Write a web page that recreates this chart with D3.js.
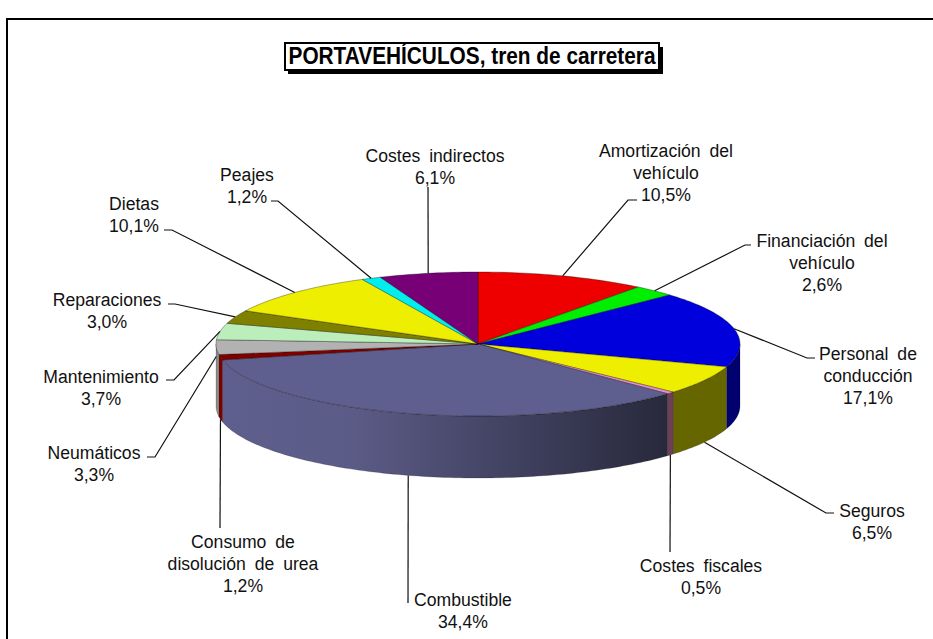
<!DOCTYPE html>
<html>
<head>
<meta charset="utf-8">
<script src="https://cdn.jsdelivr.net/npm/d3@7"></script>
<style>
html, body { margin: 0; background: #fff; }
svg { display: block; }
text { font-family: "Liberation Sans", Arial, sans-serif; }
</style>
</head>
<body>
<div id="chart"></div>
<script>
let title = "PORTAVEHÍCULOS, tren de carretera"

// chart data, clockwise from 12 o'clock
let categories = [
    ["Amortización del", "vehículo"],
    ["Financiación del", "vehículo"],
    ["Personal de", "conducción"],
    ["Seguros"],
    ["Costes fiscales"],
    ["Combustible"],
    ["Consumo de", "disolución de urea"],
    ["Neumáticos"],
    ["Mantenimiento"],
    ["Reparaciones"],
    ["Dietas"],
    ["Peajes"],
    ["Costes indirectos"]
]
let values = [10.5, 2.6, 17.1, 6.5, 0.5, 34.4, 1.2, 3.3, 3.7, 3.0, 10.1, 1.2, 6.1]
let topColors = ["#ee0000", "#00ee00", "#0000dd", "#eeee00", "#e890c8", "#5f5f8f",
    "#800000", "#b2b2b2", "#bbeebb", "#808000", "#eeee00", "#00eeee", "#770077"]
let wallColors = ["#770000", "#007700", "#00006e", "#666600", "#6f3f58", "url(#fuelWall)",
    "#7b0000", "#8c8c8c", "#5e775e", "#404000", "#777700", "#007777", "#3c003c"]

// label layout: centre x, first baseline y
let labelPos = [[666, 157], [822, 247], [868, 360], [872, 517], [701, 572], [463, 606],
    [243, 548], [94, 459], [101, 383], [107, 306], [134, 210], [247, 181], [435, 162]]
// where the leader leaves the label, elbow first then end at the label
let leaderEnds = [
    [[628, 200], [637, 200]],
    [[745, 245], [751, 245]],
    [[807, 358], [815, 358]],
    [[826, 513], [834, 513]],
    [[670, 552]],
    [[408, 603]],
    [[220, 528]],
    [[155, 457], [147, 457]],
    [[174, 380], [166, 380]],
    [[175, 304], [168, 304]],
    [[172, 230], [164, 230]],
    [[278, 201], [271, 201]],
    [[428, 187]]
]
// how far down the wall the leader touches (0 top rim, 1 bottom rim)
let leaderDrop = [0, 0, 0, 1, 1, 1, 1, 0.15, 0, 0, 0, 0, 0]

let width = 933
let height = 639
let cx = 478, cy = 344, rx = 262, ry = 72, depth = 62
let lineHeight = 22

let svg = d3.select("#chart").append("svg")
    .attr("width", width)
    .attr("height", height)

let fmt = d3.formatLocale({ decimal: ",", thousands: ".", grouping: [3], currency: ["", "€"] }).format(".1f")

let slices = d3.pie().sort(null).startAngle(0).endAngle(2 * Math.PI)(values)

function project(a, drop) {
    return [cx + rx * Math.sin(a), cy - ry * Math.cos(a) + (drop || 0) * depth]
}
function arcPoints(a0, a1, drop) {
    let n = Math.max(2, Math.ceil(Math.abs(a1 - a0) / 0.02))
    return d3.range(n + 1).map(i => project(a0 + (a1 - a0) * i / n, drop))
}
let line = d3.line()

let grad = svg.append("defs").append("linearGradient")
    .attr("id", "fuelWall")
    .attr("gradientUnits", "userSpaceOnUse")
    .attr("x1", cx - rx).attr("x2", 672).attr("y1", 0).attr("y2", 0)
grad.append("stop").attr("offset", "0%").attr("stop-color", "#5f5f8f")
grad.append("stop").attr("offset", "30%").attr("stop-color", "#5b5b87")
grad.append("stop").attr("offset", "100%").attr("stop-color", "#27283a")

// frame, open on the right and at the bottom
svg.append("path")
    .attr("d", line([[7, height], [7, 19], [width, 19]]))
    .attr("fill", "none")
    .attr("stroke", "#000")
    .attr("stroke-width", 2)

// side walls, only the front half of the cake is visible
let walls = slices.map((d, i) => ({ a0: Math.max(d.startAngle, Math.PI / 2), a1: Math.min(d.endAngle, 3 * Math.PI / 2), i: i }))
    .filter(d => d.a1 > d.a0)

svg.selectAll("path.wall")
    .data(walls)
    .enter()
    .append("path")
    .attr("class", "wall")
    .attr("d", d => line(arcPoints(d.a0, d.a1, 0).concat(arcPoints(d.a1, d.a0, 1))) + "Z")
    .attr("fill", d => wallColors[d.i])
    .attr("stroke", "#000")
    .attr("stroke-opacity", 0.35)
    .attr("stroke-width", 0.5)

// top faces
svg.selectAll("path.top")
    .data(slices)
    .enter()
    .append("path")
    .attr("class", "top")
    .attr("d", d => line([[cx, cy]].concat(arcPoints(d.startAngle, d.endAngle, 0))) + "Z")
    .attr("fill", (d, i) => topColors[i])
    .attr("stroke", "#000")
    .attr("stroke-opacity", 0.55)
    .attr("stroke-width", 0.6)

// leaders
svg.selectAll("path.leader")
    .data(slices)
    .enter()
    .append("path")
    .attr("class", "leader")
    .attr("d", (d, i) => line([project((d.startAngle + d.endAngle) / 2, leaderDrop[i])].concat(leaderEnds[i])))
    .attr("fill", "none")
    .attr("stroke", "#111")
    .attr("stroke-width", 1.2)

// labels
let labels = svg.selectAll("text.label")
    .data(slices)
    .enter()
    .append("text")
    .attr("class", "label")
    .attr("text-anchor", "middle")
    .attr("font-size", 17.6)
    .attr("word-spacing", 4)
    .attr("fill", "#111")

labels.each(function(d, i) {
    let rows = categories[i].concat([fmt(values[i]) + "%"])
    d3.select(this).selectAll("tspan")
        .data(rows)
        .enter()
        .append("tspan")
        .attr("x", labelPos[i][0])
        .attr("y", (r, j) => labelPos[i][1] + j * lineHeight)
        .text(r => r)
})

// title box with hard shadow
svg.append("rect")
    .attr("x", 288).attr("y", 47).attr("width", 375).attr("height", 27)
    .attr("fill", "#000")
svg.append("rect")
    .attr("x", 285).attr("y", 43).attr("width", 374).attr("height", 27)
    .attr("fill", "#fff")
    .attr("stroke", "#000")
    .attr("stroke-width", 2)
svg.append("text")
    .attr("x", 472).attr("y", 64)
    .attr("text-anchor", "middle")
    .attr("font-size", 23)
    .attr("font-weight", "bold")
    .attr("textLength", 367)
    .attr("lengthAdjust", "spacingAndGlyphs")
    .attr("fill", "#000")
    .text(title)
</script>
</body>
</html>
